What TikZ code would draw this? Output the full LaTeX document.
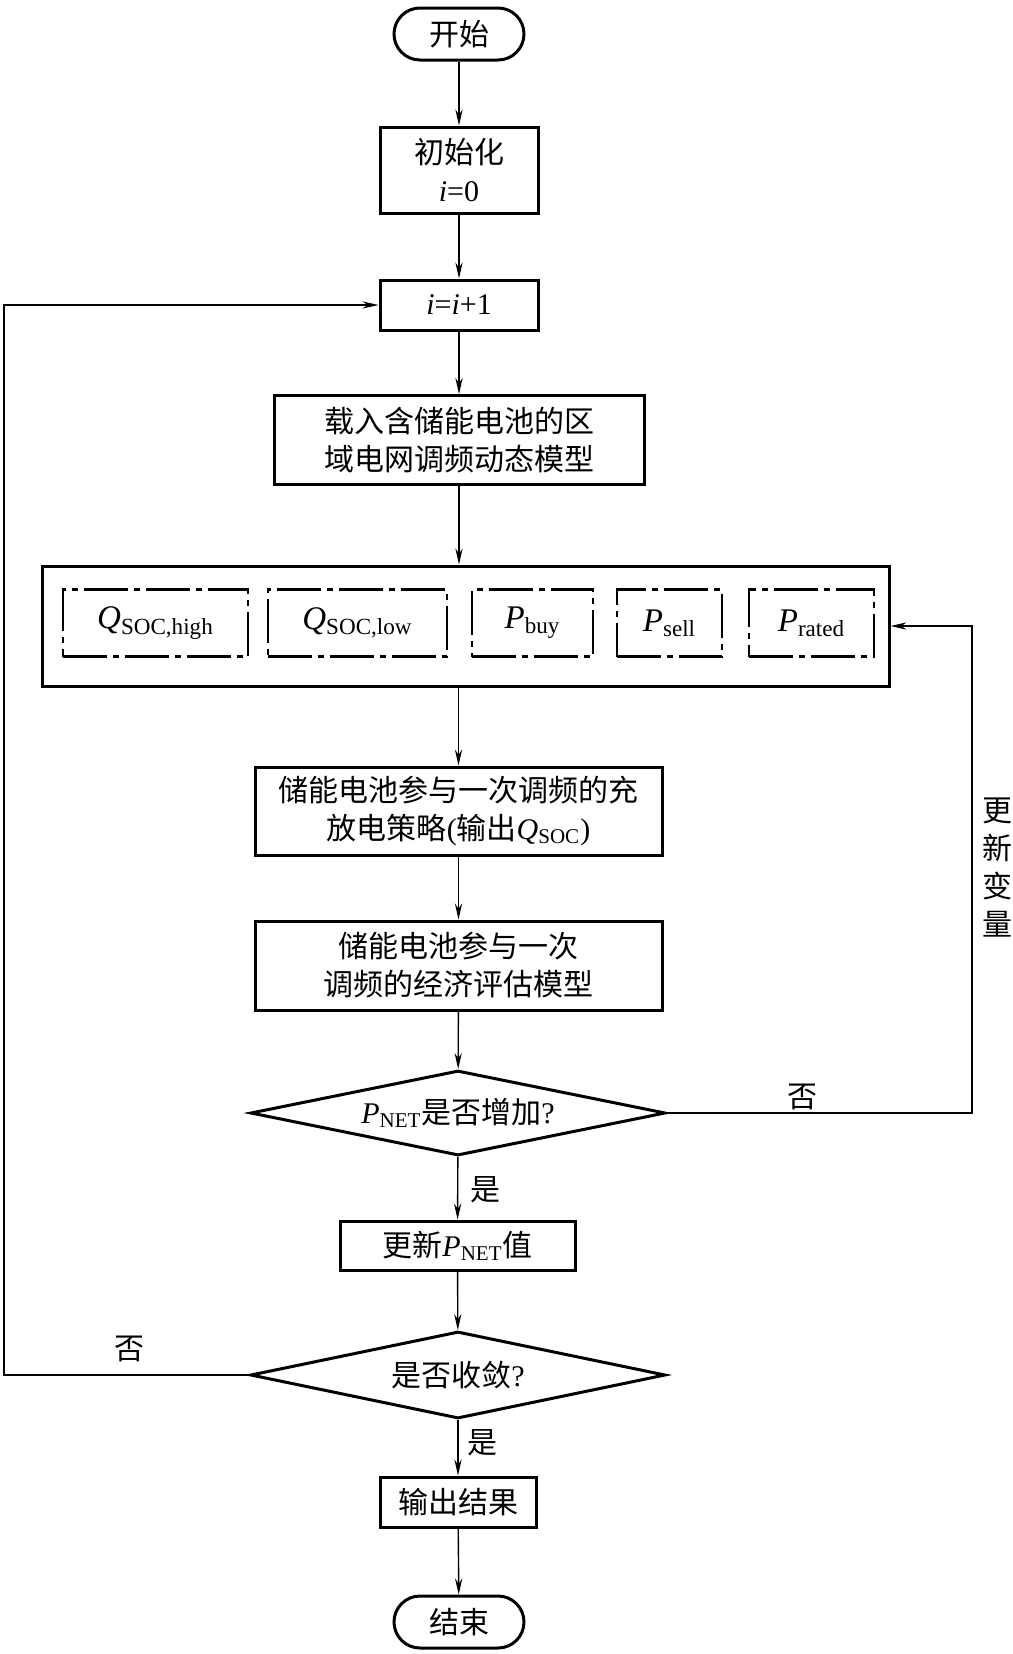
\documentclass[tikz,border=0pt]{standalone}
\usepackage{fontspec}
\setmainfont{Liberation Serif}
\newfontfamily\cjk{Noto Sans CJK SC}
\usetikzlibrary{shapes.geometric, arrows.meta, positioning, calc}
\newcommand{\var}[2]{{\rmfamily\textit{#1}\textsubscript{#2}}}
\newcommand{\lat}[1]{{\rmfamily #1}}

\begin{document}
\begin{tikzpicture}[x=0.5pt, y=-0.5pt,
  txt/.style={font=\cjk\fontsize{15}{19}\selectfont, align=center, inner sep=0pt},
  proc/.style={txt, draw, line width=1.5pt},
  term/.style={proc, minimum width=65pt, minimum height=26pt, rounded corners=13pt},
  decision/.style={proc, shape=diamond, aspect=4.9},
  param/.style={txt, font=\cjk\fontsize{16.5}{20}\selectfont, draw, line width=1.1pt,
    minimum height=33.5pt, dash pattern=on 22pt off 3pt on 3pt off 3pt},
  line/.style={line width=0.7pt},
  arr/.style={line, -{Stealth[length=8pt, width=3.6pt]}}]
  \useasboundingbox (0,0) rectangle (1012,1654);
  % Start / init
  \node[term] (start) at (459,34) {开始};
  \node[proc, minimum width=79pt, minimum height=43pt] (init) at (459,170)
    {初始化\\\lat{\textit{i}=0}};
  \node[proc, minimum width=79pt, minimum height=25pt] (incr) at (459,305)
    {\lat{\textit{i}=\textit{i}+1}};
  \node[proc, minimum width=185pt, minimum height=44.5pt] (load) at (459,440)
    {载入含储能电池的区\\域电网调频动态模型};
  % Variables
  \node[proc, minimum width=423.5pt, minimum height=60pt] (vars) at (465.5,626) {};
  \node[param, minimum width=92.5pt] (qhigh) at (155.5,623) {\var{Q}{SOC,high}};
  \node[param, minimum width=89.5pt] (qlow) at (357.5,623) {\var{Q}{SOC,low}};
  \node[param, minimum width=60.5pt] (pbuy) at (532.5,623) {\var{P}{buy}};
  \node[param, minimum width=52.5pt] (psell) at (669.5,623) {\var{P}{sell}};
  \node[param, minimum width=62.5pt] (prated) at (811.5,623) {\var{P}{rated}};
  % Strategy and evaluation
  \node[proc, minimum width=203.5pt, minimum height=44pt] (strat) at (458.5,811)
    {储能电池参与一次调频的充\\放电策略\lat{(}输出\var{Q}{SOC}\lat{)}};
  \node[proc, minimum width=203.5pt, minimum height=44.5pt] (econ) at (458.5,965.5)
    {储能电池参与一次\\调频的经济评估模型};
  \node[decision, minimum width=207.5pt, minimum height=42.5pt] (grow) at (458,1113)
    {\var{P}{NET}是否增加\lat{?}};
  \node[proc, minimum width=117.5pt, minimum height=24.5pt] (upd) at (457.5,1245.5)
    {更新\var{P}{NET}值};
  \node[decision, minimum width=207.5pt, minimum height=43.5pt] (conv) at (458,1375)
    {是否收敛\lat{?}};
  \node[proc, minimum width=78pt, minimum height=25pt] (out) at (458,1502) {输出结果};
  \node[term] (end) at (459,1622) {结束};
  % Labels
  \node[txt] (no1) at (802,1097) {否};
  \node[txt] (no2) at (129,1349) {否};
  \node[txt] (yes1) at (485,1190) {是};
  \node[txt] (yes2) at (482,1443) {是};
  \node[txt] (upvar) at (997,868) {更\\新\\变\\量};
  % Main flow
  \draw[arr] (start) -- (init);
  \draw[arr] (init) -- (incr);
  \draw[arr] (incr) -- (load);
  \draw[arr] (load) -- (load |- vars.north);
  \draw[arr] (strat |- vars.south) -- (strat);
  \draw[arr] (strat) -- (econ);
  \draw[arr] (econ) -- (grow);
  \draw[arr] (grow) -- (upd);
  \draw[arr] (upd) -- (conv);
  \draw[arr] (conv) -- (out);
  \draw[arr] (out) -- (end);
  % Loops
  \coordinate (rloop) at (972,0);
  \coordinate (lloop) at (4,0);
  \draw[arr] (grow.east) -- (grow.east -| rloop) -- (rloop |- vars.east) -- (vars.east);
  \draw[arr] (conv.west) -- (conv.west -| lloop) -- (lloop |- incr.west) -- (incr.west);
\end{tikzpicture}
\end{document}
